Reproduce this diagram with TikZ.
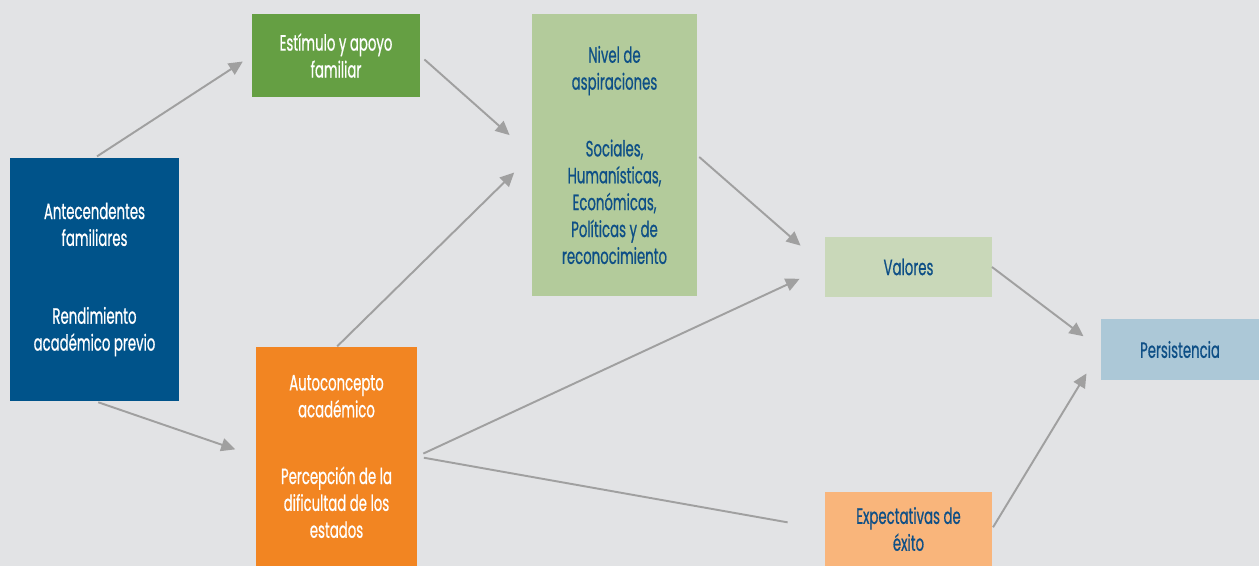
\documentclass[tikz,border=0pt]{standalone}
\usepackage{fontspec}
\setmainfont{Poppins}[FakeStretch=0.6, FakeBold=0.6]
\usepackage{tikz}
\usetikzlibrary{arrows.meta}
\definecolor{bgray}{HTML}{E2E3E5}
\definecolor{antblue}{HTML}{00538A}
\definecolor{estgreen}{HTML}{659F43}
\definecolor{nivgreen}{HTML}{B3CB9B}
\definecolor{autorange}{HTML}{F28522}
\definecolor{valgreen}{HTML}{C9D8B9}
\definecolor{expeach}{HTML}{F9B57B}
\definecolor{perblue}{HTML}{ACC8D7}
\definecolor{txtblue}{HTML}{0E4F86}
\definecolor{linegray}{HTML}{A0A0A0}

\begin{document}
\begin{tikzpicture}[x=0.02cm, y=-0.02cm,
  box/.style={rectangle, inner sep=0pt, outer sep=0pt, align=center,
    font=\fontsize{12.6}{15.3}\selectfont},
  wbox/.style={box, text=white},
  bbox/.style={box, text=txtblue},
  arrow/.style={-{Triangle[length=0.28cm, width=0.26cm]}, line width=1.1pt, draw=linegray, fill=linegray},
  plain/.style={line width=1.1pt, draw=linegray}]

\fill[bgray] (0,0) rectangle (1259,566);
\useasboundingbox (0,0) rectangle (1259,566);

\node[wbox, fill=antblue, minimum width=3.38cm, minimum height=4.86cm] (ant) at (94.5,279.5)
  {Antecendentes\\familiares\\[29pt]Rendimiento\\académico previo};
\node[wbox, fill=estgreen, minimum width=3.36cm, minimum height=1.66cm] (estim) at (336,55.5)
  {Estímulo y apoyo\\familiar};
\node[bbox, fill=nivgreen, minimum width=3.3cm, minimum height=5.64cm] (nivel) at (614.5,155)
  {Nivel de\\aspiraciones\\[22.7pt]Sociales,\\Humanísticas,\\Económicas,\\Políticas y de\\reconocimiento};
\node[wbox, fill=autorange, minimum width=3.22cm, minimum height=4.38cm] (auto) at (336.5,456.5)
  {Autoconcepto\\académico\\[22.7pt]Percepción de la\\dificultad de los\\estados};
\node[bbox, fill=valgreen, minimum width=3.34cm, minimum height=1.2cm] (valores) at (908.5,267)
  {Valores};
\node[bbox, fill=expeach, minimum width=3.34cm, minimum height=1.48cm] (expect) at (908.5,529)
  {Expectativas de\\éxito};
\node[bbox, fill=perblue, minimum width=3.16cm, minimum height=1.22cm] (persist) at (1180,349.5)
  {Persistencia};

\draw[arrow, shorten <=0.06cm, shorten >=0.22cm] (ant.north) -- (estim.west);
\draw[arrow, shorten <=0.08cm, shorten >=0.44cm] (ant.south) -- (auto.west);
\draw[arrow, shorten <=0.12cm, shorten >=0.6cm] (estim.east) -- (nivel.west);
\draw[arrow, shorten <=0.02cm, shorten >=0.5cm] (auto.north) -- (nivel.west);
\draw[arrow, shorten <=0.06cm, shorten >=0.65cm] (nivel.east) -- (valores.west);
\draw[arrow, shorten <=0.14cm, shorten >=0.56cm] (auto.east) -- (valores.west);
\draw[plain, shorten <=0.14cm, shorten >=0.76cm] (auto.east) -- (expect.west);
\draw[arrow, shorten >=0.44cm] (valores.east) -- (persist.west);
\draw[arrow, shorten <=0.04cm, shorten >=0.56cm] (expect.east) -- (persist.west);
\end{tikzpicture}
\end{document}
